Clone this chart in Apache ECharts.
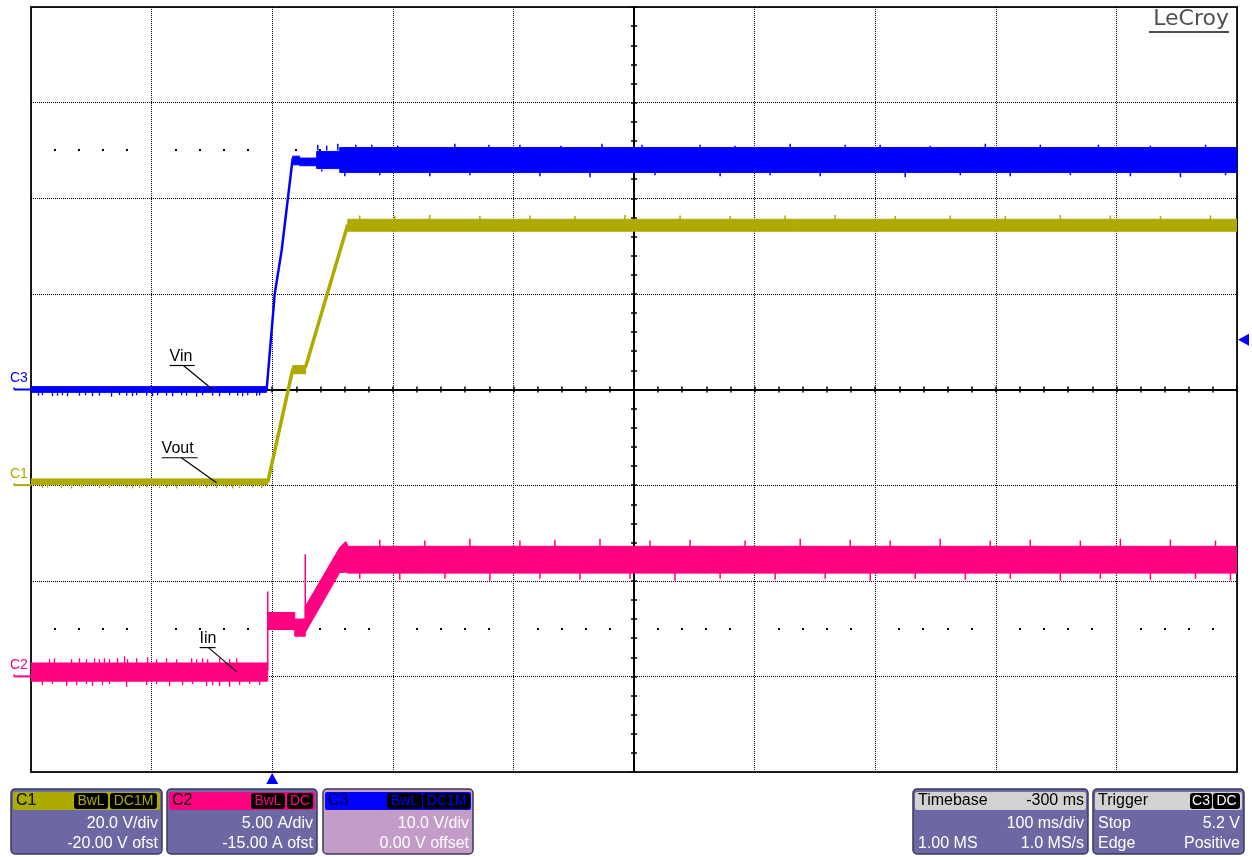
<!DOCTYPE html>
<html><head><meta charset="utf-8">
<script src="https://cdn.jsdelivr.net/npm/echarts@6/dist/echarts.min.js"></script>
<style>html,body{margin:0;padding:0;background:#fff}#c{width:1252px;height:857px}</style>
</head><body><div id="c"></div>
<script>
// ---------- DATA (time in ms, trigger at 0; 100 ms/div) ----------
const timeMin = -200, timeMax = 800, timeDiv = 100;

// C3 : Vin (V), 10 V/div, 0 V offset
const vinBaseT = [-200, -4.6];
const vinBaseHi = [0.3, 0.3];
const vinBaseLo = [-0.3, -0.3];
const vinRampT = [-4.6, 2.1, 7.9, 17.0];
const vinRampV = [0, 10.0, 14.6, 24.2];
const vinTopT = [17.0, 22.8, 22.8, 36.9, 36.9, 56.0, 56.0, 800];
const vinTopHi = [24.4, 24.4, 24.2, 24.2, 24.9, 24.9, 25.3, 25.3];
const vinTopLo = [23.5, 23.5, 23.4, 23.4, 23.1, 23.1, 22.7, 22.7];
const vinSpikeT = [-193.8,-190.5,-182.2,-178.0,-173.9,-169.7,-159.8,-154.8,-149.0,-143.2,-133.2,-126.6,-120.7,-115.8,-112.4,-104.1,-99.2,-95.0,-87.6,-82.6,-75.1,-71.0,-62.7,-57.7,-49.4,-43.6,-35.3,-28.6,-24.5,-20.3,-12.9,-10.4];
const vinSpikeV = [-0.65,-0.6,-0.7,-0.65,-0.6,-0.7,-0.65,-0.6,-0.7,-0.65,-0.75,-0.6,-0.65,-0.7,-0.6,-0.65,-0.7,-0.6,-0.65,-0.7,-0.6,-0.65,-0.75,-0.6,-0.65,-0.7,-0.6,-0.65,-0.7,-0.6,-0.65,-0.6];
const vinUpT = [37.8,45.2,54.4,69.3,82.6,104.1,151.4,179.7,205.4,239.4,273.4,306.6,354.8,383.8,429.5,475.1,504.1,545.6,591.3,636.9,685.1,728.2,773.9];
const vinUpV = [25.6,25.5,25.7,25.6,25.6,25.5,25.7,25.6,25.6,25.5,25.7,25.6,25.6,25.5,25.7,25.6,25.6,25.5,25.7,25.6,25.6,25.5,25.6];
const vinDnT = [41.1,60.2,89.2,130.7,163.9,222.0,263.5,317.4,371.4,412.9,454.4,524.9,570.5,612.0,661.8,711.6,753.1,790.5];
const vinDnV = [22.8,22.3,22.4,22.3,22.4,22.3,22.2,22.4,22.3,22.4,22.3,22.2,22.4,22.3,22.4,22.3,22.2,22.4];

// C1 : Vout (V), 20 V/div, -20 V offset
const voutBaseT = [-200, -3.7];
const voutBaseHi = [1.3, 1.3];
const voutBaseLo = [0.1, 0.1];
const voutRampT = [-3.7, 17.0, 27.8, 62.7];
const voutRampV = [0.6, 24.2, 24.8, 54.5];
const voutPlatT = [17.0, 27.8];
const voutPlatHi = [25.0, 25.0];
const voutPlatLo = [23.3, 23.3];
const voutTopT = [62.7, 800];
const voutTopHi = [55.6, 55.6];
const voutTopLo = [53.1, 53.1];
const voutSpikeT = [-190.5,-186.3,-174.7,-166.4,-158.1,-143.2,-134.9,-120.7,-115.8,-110.0,-104.1,-93.4,-87.6,-79.3,-60.2,-54.4,-46.1,-37.8,-32.8,-27.0,-16.2,-8.7];
const voutSpikeV = [-0.6,-0.5,-0.6,-0.7,-0.5,-0.6,-0.6,-0.5,-0.7,-0.6,-0.5,-0.6,-0.6,-0.7,-0.5,-0.6,-0.6,-0.5,-0.7,-0.6,-0.5,-0.6];
const voutUpT = [72.6,101.7,130.7,172.2,213.7,251.0,292.5,338.2,379.7,425.3,466.8,516.6,562.2,607.9,653.5,695.0,736.5,778.0];
const voutUpV = [56.4,56.3,56.5,56.3,56.4,56.3,56.5,56.4,56.3,56.4,56.5,56.3,56.4,56.3,56.5,56.4,56.3,56.4];

// C2 : Iin (A), 5 A/div, -15 A offset
const iinBaseT = [-200, -3.7];
const iinBaseHi = [0.7, 0.7];
const iinBaseLo = [-0.25, -0.25];
const iinPlatT = [-3.7, 18.7, 18.7, 27.4];
const iinPlatHi = [3.34, 3.34, 3.0, 3.0];
const iinPlatLo = [2.45, 2.45, 2.1, 2.1];
const iinTopT = [27.4, 56.0, 61.0, 63.0, 800];
const iinTopHi = [3.65, 6.74, 7.05, 6.8, 6.8];
const iinTopLo = [2.29, 5.43, 5.45, 5.4, 5.4];
const iinGlitchT = [-3.7, 27.4];
const iinGlitchLo = [0.3, 2.4];
const iinGlitchHi = [4.44, 6.38];
const iinUpT = [-184.6,-180.5,-166.4,-159.8,-154.0,-147.3,-143.2,-139.0,-134.9,-128.2,-122.4,-119.9,-112.4,-103.3,-95.9,-87.6,-79.3,-66.8,-62.7,-57.7,-53.5,-43.6,-35.3,-29.5];
const iinUpV = [0.9,0.95,0.9,0.95,0.9,0.95,0.9,0.95,0.9,0.95,1.05,0.9,0.95,1.0,0.9,0.95,0.9,0.95,0.9,0.95,0.9,0.95,0.9,0.95];
const iinDownT = [-190.5,-182.2,-170.5,-162.2,-154.0,-149.0,-140.7,-134.9,-120.7,-104.1,-95.9,-85.1,-74.3,-66.0,-54.4,-49.4,-43.6,-35.3,-27.0,-18.7,-10.4];
const iinDownV = [-0.45,-0.4,-0.5,-0.45,-0.4,-0.5,-0.45,-0.4,-0.55,-0.45,-0.4,-0.5,-0.45,-0.4,-0.5,-0.45,-0.5,-0.55,-0.45,-0.4,-0.45];
const iinTopUpT = [89.2,126.6,163.9,205.4,234.4,271.8,313.3,346.5,392.1,437.8,479.3,512.4,553.9,595.4,628.6,670.1,703.3,744.8,782.2];
const iinTopUpV = [7.15,7.1,7.2,7.1,7.15,7.2,7.1,7.15,7.1,7.2,7.15,7.1,7.2,7.1,7.15,7.1,7.2,7.15,7.1];
const iinTopDnT = [72.6,105.8,143.2,180.5,222.0,255.2,296.7,334.0,371.4,417.0,458.5,495.9,533.2,574.7,612.0,653.5,686.7,728.2,765.6,794.6];
const iinTopDnV = [5.1,5.05,5.1,5.0,5.1,5.05,5.1,5.0,5.1,5.05,5.1,5.0,5.1,5.05,5.1,5.0,5.1,5.05,5.1,5.0];

// trigger
const trigTime = 0, trigLevel = 5.2;

// annotations
const annText = ['Vin', 'Vout', 'Iin'];
const annT = [-49.4, -46.1, -29.5];
const annV = [0.0, 0.5, 0.25];

// info boxes text
const chanNames = ['C1', 'C2', 'C3'];
const chanScale = ['20.0 V/div', '5.00 A/div', '10.0 V/div'];
const chanOffset = ['-20.00 V ofst', '-15.00 A ofst', '0.00 V offset'];
const tbText = ['Timebase', '-300 ms', '100 ms/div', '1.00 MS', '1.0 MS/s'];
const trText = ['Trigger', 'Stop', '5.2 V', 'Edge', 'Positive'];

// ---------- CHART ----------
const BLUE = '#0000ff', OLIVE = '#adaa00', PINK = '#ff0080';
const FONT = '"Liberation Sans", Arial, sans-serif';
const chart = echarts.init(document.getElementById('c'), null, {renderer: 'canvas'});

function band(T, hi, lo, yIdx, color, z) {
  return {
    type: 'custom', xAxisIndex: 0, yAxisIndex: yIdx, silent: true, z: z || 3, clip: true,
    data: T.map((t, i) => [t, hi[i]]),
    renderItem: function (p, api) {
      if (p.dataIndex !== 0) return null;
      const pts = [];
      for (let i = 0; i < T.length; i++) pts.push(api.coord([T[i], hi[i]]));
      for (let i = T.length - 1; i >= 0; i--) pts.push(api.coord([T[i], lo[i]]));
      return {type: 'polygon', shape: {points: pts}, style: {fill: color, stroke: color, lineWidth: 1}};
    }
  };
}
function spikes(T, V, base, yIdx, color, w) {
  return {
    type: 'custom', xAxisIndex: 0, yAxisIndex: yIdx, silent: true, z: 3, clip: true,
    data: T.map((t, i) => [t, V[i], Array.isArray(base) ? base[i] : base]),
    renderItem: function (p, api) {
      const a = api.coord([api.value(0), api.value(2)]);
      const b = api.coord([api.value(0), api.value(1)]);
      return {type: 'line', shape: {x1: a[0], y1: a[1], x2: b[0], y2: b[1]}, style: {stroke: color, lineWidth: w || 1.3}};
    }
  };
}
function ramp(T, V, yIdx, color, w) {
  return {
    type: 'line', xAxisIndex: 0, yAxisIndex: yIdx, silent: true, z: 3, symbol: 'none', animation: false,
    data: T.map((t, i) => [t, V[i]]), lineStyle: {color: color, width: w}
  };
}
const hidden = {axisLine: {show: false}, axisTick: {show: false}, axisLabel: {show: false}, splitLine: {show: false}};
const dotted = {show: true, lineStyle: {color: '#000', width: 1, type: [1, 1]}};
function centerAxis(inside, idx, extra) {
  return Object.assign({
    type: 'value', interval: 0.2,
    axisLine: {show: true, onZero: true, onZeroAxisIndex: idx, lineStyle: {color: '#000', width: 2}},
    axisTick: {show: true, inside: inside, length: 3, lineStyle: {color: '#000', width: 1.5}},
    axisLabel: {show: false}, splitLine: {show: false}
  }, extra);
}

const option = {
  animation: false,
  backgroundColor: '#fff',
  grid: {left: 31, top: 7, width: 1206, height: 765, show: true, borderColor: '#222', borderWidth: 2, backgroundColor: 'transparent'},
  xAxis: [
    Object.assign({}, hidden, {type: 'value', min: timeMin, max: timeMax, interval: timeDiv, splitLine: dotted}),
    centerAxis(false, 3, {min: -5, max: 5, position: 'bottom'}),
    centerAxis(true, 3, {min: -5, max: 5, position: 'bottom'})
  ],
  yAxis: [
    {type: 'value', min: -40, max: 40, interval: 10, show: false},
    {type: 'value', min: -60, max: 100, interval: 20, show: false},
    {type: 'value', min: -5, max: 35, interval: 5, show: false},
    Object.assign({}, hidden, {type: 'value', min: -4, max: 4, interval: 1, splitLine: dotted}),
    centerAxis(false, 1, {min: -4, max: 4, position: 'left'}),
    centerAxis(true, 1, {min: -4, max: 4, position: 'left'})
  ],
  series: [
    // Vout (C1)
    band(voutBaseT, voutBaseHi, voutBaseLo, 1, OLIVE),
    spikes(voutSpikeT, voutSpikeV, 0.4, 1, OLIVE),
    ramp(voutRampT, voutRampV, 1, OLIVE, 3.5),
    band(voutPlatT, voutPlatHi, voutPlatLo, 1, OLIVE),
    band(voutTopT, voutTopHi, voutTopLo, 1, OLIVE),
    spikes(voutUpT, voutUpV, 55.0, 1, OLIVE, 1.5),
    // Iin (C2)
    band(iinBaseT, iinBaseHi, iinBaseLo, 2, PINK),
    spikes(iinUpT, iinUpV, 0.2, 2, PINK),
    spikes(iinDownT, iinDownV, 0.2, 2, PINK),
    spikes(iinGlitchT, iinGlitchHi, iinGlitchLo, 2, PINK, 1.5),
    band(iinPlatT, iinPlatHi, iinPlatLo, 2, PINK),
    band(iinTopT, iinTopHi, iinTopLo, 2, PINK),
    spikes(iinTopUpT, iinTopUpV, 6.5, 2, PINK, 1.5),
    spikes(iinTopDnT, iinTopDnV, 5.7, 2, PINK, 1.5),
    // Vin (C3)
    band(vinBaseT, vinBaseHi, vinBaseLo, 0, BLUE),
    spikes(vinSpikeT, vinSpikeV, 0, 0, BLUE),
    ramp(vinRampT, vinRampV, 0, BLUE, 2.5),
    band(vinTopT, vinTopHi, vinTopLo, 0, BLUE),
    spikes(vinUpT, vinUpV, 25.0, 0, BLUE, 1.5),
    spikes(vinDnT, vinDnV, 23.0, 0, BLUE, 1.5)
  ]
};
chart.setOption(option);

// ---------- decorations computed through the axes ----------
function px(yIdx, t, v) { return chart.convertToPixel({xAxisIndex: 0, yAxisIndex: yIdx}, [t, v]); }
const G = [];
const gl = 31, gr = 1237, gt = 7, gb = 772;
// sparse dot rows at +/-2.5 div
[2.5, -2.5].forEach(function (d) {
  const y = chart.convertToPixel({yAxisIndex: 3}, d);
  for (let k = 1; k < 50; k++) {
    if (k % 5 === 0) continue;
    const x = chart.convertToPixel({xAxisIndex: 1}, -5 + k * 0.2);
    G.push({type: 'rect', shape: {x: Math.round(x) - 1, y: Math.round(y) - 1, width: 2, height: 2}, style: {fill: '#000'}, z: 1});
  }
});
// channel ground markers
const chanAxis = [0, 1, 2], chanLbl = ['C3', 'C1', 'C2'], chanCol = [BLUE, OLIVE, PINK];
chanAxis.forEach(function (ax, i) {
  const y = px(ax, timeMin, 0)[1];
  G.push({type: 'line', shape: {x1: 14, y1: y, x2: gl, y2: y}, style: {stroke: chanCol[i], lineWidth: 2}, z: 10});
  G.push({type: 'line', shape: {x1: 14, y1: y, x2: 14, y2: y - 2}, style: {stroke: chanCol[i], lineWidth: 1.5}, z: 10});
  G.push({type: 'text', x: 10, y: y - 4, style: {text: chanLbl[i], fill: chanCol[i], font: '14px ' + FONT, align: 'left', verticalAlign: 'bottom'}, z: 10});
});
// annotations
const annAx = [0, 1, 2], annDx = [-43, -55, -37], annDy = [-24, -25, -24], annW = [25, 36, 16];
annText.forEach(function (s, i) {
  const p = px(annAx[i], annT[i], annV[i]);
  const ux = p[0] + annDx[i], uy = p[1] + annDy[i];
  G.push({type: 'line', shape: {x1: ux, y1: uy, x2: ux + annW[i], y2: uy}, style: {stroke: '#000', lineWidth: 1.2}, z: 20});
  G.push({type: 'line', shape: {x1: ux + annW[i] * 0.55, y1: uy, x2: p[0], y2: p[1]}, style: {stroke: '#000', lineWidth: 1.2}, z: 20});
  G.push({type: 'text', x: ux, y: uy - 1, style: {text: s, fill: '#000', font: '16px ' + FONT, align: 'left', verticalAlign: 'bottom'}, z: 20});
});
// trigger markers
const tl = px(0, timeMax, trigLevel);
G.push({type: 'polygon', shape: {points: [[gr + 1, tl[1]], [gr + 12, tl[1] - 6], [gr + 12, tl[1] + 6]]}, style: {fill: BLUE}, z: 10});
const tp = px(0, trigTime, 0);
G.push({type: 'polygon', shape: {points: [[tp[0], gb + 1], [tp[0] - 6, gb + 12], [tp[0] + 6, gb + 12]]}, style: {fill: BLUE}, z: 10});
// logo
G.push({type: 'text', x: 1229, y: 30, style: {text: 'LeCroy', fill: '#505050', font: '22px "DejaVu Sans", sans-serif', align: 'right', verticalAlign: 'bottom'}, z: 10});
G.push({type: 'rect', shape: {x: 1149, y: 31, width: 80, height: 2}, style: {fill: '#505050'}, z: 10});

// info boxes
const BODY = '#6c68a4', BODY3 = '#c49cca', EDGE = '#3a3858', HEAD = '#d2d2d2';
function T(x, y, s, color, align, size) {
  return {type: 'text', x: x, y: y, style: {text: s, fill: color, font: (size || 16) + 'px ' + FONT, align: align || 'left', verticalAlign: 'middle'}, z: 102};
}
function R(x, y, w, h, r, fill, stroke, lw) {
  return {type: 'rect', shape: {x: x, y: y, width: w, height: h, r: r}, style: {fill: fill, stroke: stroke || null, lineWidth: lw || 0}, z: 100};
}
function badge(x1, x2, s, color) {
  G.push(Object.assign(R(x1, 793, x2 - x1, 16, 3, '#000'), {z: 101}));
  G.push(T((x1 + x2) / 2, 801.5, s, color, 'center', 14));
}
const boxX = [11, 167, 323], boxW = [151, 150, 150], boxHead = [OLIVE, PINK, BLUE], boxBody = [BODY, BODY, BODY3];
const badgeX = [[74, 108, 110, 157], [251, 285, 287, 313], [387, 422, 423, 470]];
const badgeS = [['BwL', 'DC1M'], ['BwL', 'DC'], ['BwL', 'DC1M']];
boxX.forEach(function (x, i) {
  const w = boxW[i];
  G.push(R(x, 789, w, 65, 4, boxBody[i], EDGE, 1.5));
  G.push(Object.assign(R(x + 2, 792, w - 4, 18, 2, boxHead[i]), {z: 101}));
  G.push(T(x + 5, 801, chanNames[i], i === 2 ? '#000040' : '#000', 'left', 16));
  badge(badgeX[i][0], badgeX[i][1], badgeS[i][0], boxHead[i]);
  badge(badgeX[i][2], badgeX[i][3], badgeS[i][1], boxHead[i]);
  G.push(T(x + w - 4, 824, chanScale[i], '#fff', 'right'));
  G.push(T(x + w - 4, 844, chanOffset[i], '#fff', 'right'));
});
// timebase
G.push(R(913, 789, 175, 65, 4, BODY, EDGE, 1.5));
G.push(Object.assign(R(915, 792, 171, 18, 2, HEAD), {z: 101}));
G.push(T(918, 801, tbText[0], '#000', 'left'));
G.push(T(1084, 801, tbText[1], '#000', 'right'));
G.push(T(1084, 824, tbText[2], '#fff', 'right'));
G.push(T(918, 844, tbText[3], '#fff', 'left'));
G.push(T(1084, 844, tbText[4], '#fff', 'right'));
// trigger
G.push(R(1093, 789, 151, 65, 4, BODY, EDGE, 1.5));
G.push(Object.assign(R(1095, 792, 147, 18, 2, HEAD), {z: 101}));
G.push(T(1098, 801, trText[0], '#000', 'left'));
badge(1190, 1212, 'C3', '#fff');
badge(1213, 1240, 'DC', '#fff');
G.push(T(1098, 824, trText[1], '#fff', 'left'));
G.push(T(1240, 824, trText[2], '#fff', 'right'));
G.push(T(1098, 844, trText[3], '#fff', 'left'));
G.push(T(1240, 844, trText[4], '#fff', 'right'));

chart.setOption({graphic: G});
</script>
</body></html>
